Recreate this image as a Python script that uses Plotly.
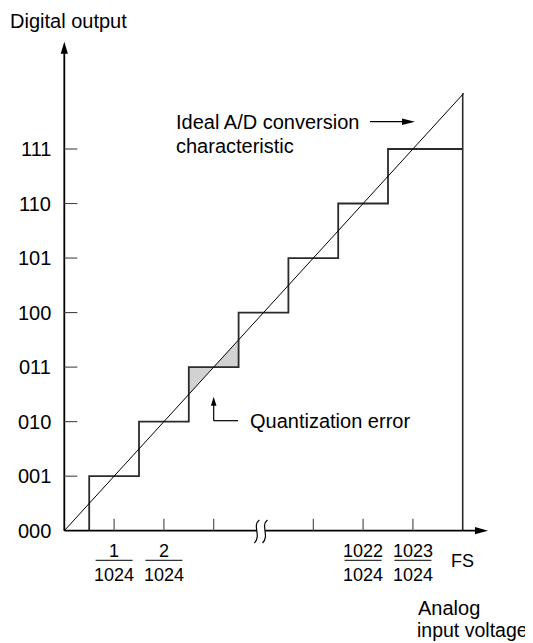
import plotly.graph_objects as go

# ---------------- data ----------------
codes = ["000", "001", "010", "011", "100", "101", "110", "111"]
levels = [0, 1, 2, 3, 4, 5, 6, 7]
step_edges = [0.5, 1.5, 2.5, 3.5, 4.5, 5.5, 6.5]   # transition points (LSB units)
full_scale = 8
ideal_x = [0, 8.02]
ideal_y = [0, 8.02]
xtick_pos = [1, 2, 3, 5, 6, 7]
frac_pos = [1, 2, 6, 7]
frac_num = ["1", "2", "1022", "1023"]
frac_den = ["1024", "1024", "1024", "1024"]
break_pos = 3.95
err_code = 3

# ---------------- pixel geometry (page pixels; the page body has an 8px margin) ----------------
PAGE_W, PAGE_H = 533, 643
OFF = 8
W, H = PAGE_W - OFF, PAGE_H - OFF
X0PX, XU = 64.3, 49.8
Y0PX, YU = 530.7, 54.53


def px2x(p):
    return (p - X0PX) / XU


def px2y(p):
    return (Y0PX - p) / YU


FONT = "Liberation Sans, Arial, Helvetica, sans-serif"
BLACK = "#000000"
STEP = "#2b2b2b"

fig = go.Figure()

# shaded quantization-error triangles around the step of err_code
e = step_edges[err_code - 1]
lv = levels[err_code]
tri_x = [e, e, lv, e]
tri_y = [e, lv, lv, e]
fig.add_trace(go.Scatter(x=tri_x, y=tri_y, fill="toself", fillcolor="#d2d2d2",
                         mode="none", hoverinfo="skip", showlegend=False))
e2 = step_edges[err_code]
tri2_x = [lv, e2, e2, lv]
tri2_y = [lv, lv, e2, lv]
fig.add_trace(go.Scatter(x=tri2_x, y=tri2_y, fill="toself", fillcolor="#d2d2d2",
                         mode="none", hoverinfo="skip", showlegend=False))

# staircase
sx = [step_edges[0]]
sy = [levels[0]]
for i, edge in enumerate(step_edges):
    sx.append(edge)
    sy.append(levels[i + 1])
    nxt = step_edges[i + 1] if i + 1 < len(step_edges) else full_scale
    sx.append(nxt)
    sy.append(levels[i + 1])
fig.add_trace(go.Scatter(x=sx, y=sy, mode="lines", line=dict(color=STEP, width=1.8),
                         hoverinfo="skip", showlegend=False))

# full-scale vertical line
fig.add_trace(go.Scatter(x=[full_scale, full_scale], y=[0, ideal_y[-1]], mode="lines",
                         line=dict(color=STEP, width=1.6), hoverinfo="skip", showlegend=False))

# ideal characteristic
fig.add_trace(go.Scatter(x=ideal_x, y=ideal_y, mode="lines", line=dict(color=BLACK, width=1),
                         hoverinfo="skip", showlegend=False))

shapes = []
# y axis
y_tip = px2y(41.7)
shapes.append(dict(type="line", x0=0, x1=0, y0=0, y1=y_tip - 8 / YU,
                   line=dict(color=BLACK, width=1.8)))
shapes.append(dict(type="path", xsizemode="pixel", ysizemode="pixel", xanchor=0, yanchor=y_tip,
                   path="M 0,0 L -3.6,-12 L 3.6,-12 Z", fillcolor=BLACK, line=dict(width=0)))
# x axis with break
x_tip = px2x(488)
shapes.append(dict(type="line", x0=0, x1=px2x(256.8), y0=0, y1=0,
                   line=dict(color=BLACK, width=1.8)))
shapes.append(dict(type="line", x0=px2x(265.2), x1=x_tip - 8 / XU, y0=0, y1=0,
                   line=dict(color=BLACK, width=1.8)))
shapes.append(dict(type="path", xsizemode="pixel", ysizemode="pixel", xanchor=x_tip, yanchor=0,
                   path="M 0,0 L -13,3.6 L -13,-3.6 Z", fillcolor=BLACK, line=dict(width=0)))
# break squiggles
for dx in (-4.2, 4.0):
    shapes.append(dict(type="path", xsizemode="pixel", ysizemode="pixel",
                       xanchor=break_pos, yanchor=0,
                       path=f"M {dx+2.5},10.7 C {dx-5},5 {dx+5},-5 {dx-2.5},-12.3",
                       line=dict(color=BLACK, width=1.2)))
# x ticks
for p in xtick_pos:
    shapes.append(dict(type="line", ysizemode="pixel", yanchor=0, y0=0, y1=12,
                       x0=p, x1=p, line=dict(color="#444444", width=1.1)))
# y ticks
for lvl in levels[1:]:
    shapes.append(dict(type="line", xsizemode="pixel", xanchor=0, x0=0, x1=13,
                       y0=lvl, y1=lvl, line=dict(color="#444444", width=1.1)))
# fraction bars
for p in frac_pos:
    shapes.append(dict(type="line", xsizemode="pixel", xanchor=p, x0=-18.5, x1=18.5,
                       ysizemode="pixel", yanchor=0, y0=-29.6, y1=-29.6,
                       line=dict(color=BLACK, width=1)))
# ideal-line pointer arrow
arr_y = px2y(121.7)
shapes.append(dict(type="line", x0=px2x(370), x1=px2x(404), y0=arr_y, y1=arr_y,
                   line=dict(color=BLACK, width=1.2)))
shapes.append(dict(type="path", xsizemode="pixel", ysizemode="pixel", xanchor=px2x(415),
                   yanchor=arr_y, path="M 0,0 L -13,3.3 L -13,-3.3 Z",
                   fillcolor=BLACK, line=dict(width=0)))
# quantization error pointer
qx = lv
q_tip = px2y(396.7)
q_bot = px2y(420.7)
shapes.append(dict(type="line", x0=qx, x1=qx, y0=q_bot, y1=q_tip - 5 / YU,
                   line=dict(color=BLACK, width=1.2)))
shapes.append(dict(type="line", x0=qx, x1=px2x(238), y0=q_bot, y1=q_bot,
                   line=dict(color=BLACK, width=1.2)))
shapes.append(dict(type="path", xsizemode="pixel", ysizemode="pixel", xanchor=qx,
                   yanchor=q_tip, path="M 0,0 L -2.8,-9 L 2.8,-9 Z",
                   fillcolor=BLACK, line=dict(width=0)))

ann = []


def text(x, y, t, size=20, xanchor="left", yanchor="middle"):
    ann.append(dict(x=x, y=y, xref="x", yref="y", text=t, showarrow=False,
                    xanchor=xanchor, yanchor=yanchor,
                    font=dict(family=FONT, size=size, color=BLACK)))


# y tick labels
for lvl, c in zip(levels, codes):
    text(px2x(53), lvl, c, xanchor="right")
# fraction labels
for p, n, d in zip(frac_pos, frac_num, frac_den):
    text(p, px2y(551.0), n, size=18, xanchor="center")
    text(p, px2y(575.0), d, size=18, xanchor="center")
text(full_scale, px2y(561), "FS", size=18, xanchor="center")
text(px2x(8), px2y(8), "Digital output", yanchor="top")
text(px2x(416), px2y(608), "Analog")
text(px2x(530), px2y(630), "input voltage", size=19.5, xanchor="right")
text(px2x(174), px2y(121.7), "Ideal A/D conversion")
text(px2x(174), px2y(146), "characteristic")
text(px2x(248), px2y(421), "Quantization error")

fig.update_layout(
    width=W, height=H, autosize=False,
    margin=dict(l=0, r=0, t=0, b=0, pad=0),
    paper_bgcolor="white", plot_bgcolor="white",
    xaxis=dict(range=[px2x(OFF), px2x(PAGE_W)], visible=False, fixedrange=True),
    yaxis=dict(range=[px2y(PAGE_H), px2y(OFF)], visible=False, fixedrange=True),
    shapes=shapes, annotations=ann, showlegend=False,
)

fig.write_html("out.html")
